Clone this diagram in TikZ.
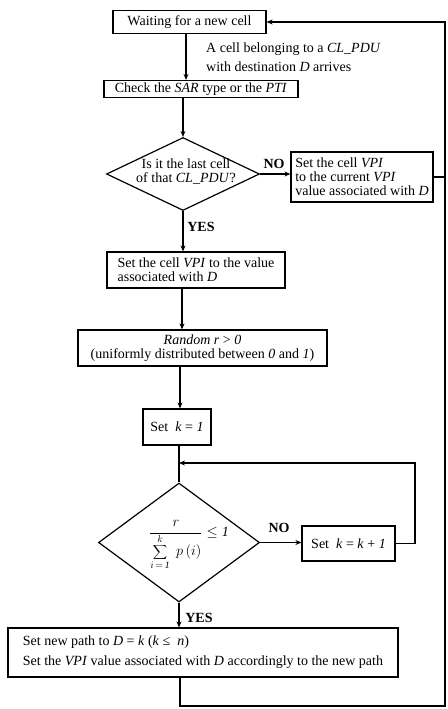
\documentclass[tikz,border=0pt]{standalone}
\usepackage{fontspec}
\setmainfont{Liberation Serif}
\usetikzlibrary{shapes.geometric,arrows.meta}
\newcommand\fs{\fontsize{14}{14}\selectfont}
\tikzset{
  box/.style={draw, line width=1.2pt, inner sep=0pt, align=center, font=\fs},
  dia/.style={draw, diamond, line width=1.2pt, inner sep=0pt},
  dtext/.style={align=center, font=\fs, inner sep=0pt},
  arr/.style={-{Stealth[length=6pt,width=5pt]}, line width=1.2pt},
  ln/.style={line width=1.2pt},
  lab/.style={font=\fs\bfseries, inner sep=0pt},
  note/.style={font=\fs, align=left, inner sep=0pt}
}
\begin{document}
\begin{tikzpicture}[x=1pt,y=-1pt]
\useasboundingbox (0,0) rectangle (447,709);

\node[box, minimum width=153pt, minimum height=23pt] (b1) at (189.5,22) {Waiting for a new cell};
\node[note, anchor=west] (arrive) at (206,57) {A cell belonging to a \textit{CL\_PDU}\\[5pt] with destination \textit{D} arrives};
\node[box, minimum width=194pt, minimum height=17pt] (b2) at (201,89) {Check the \textit{SAR} type or the \textit{PTI}};

\node[dia, minimum width=153pt, minimum height=73pt] (d1) at (183,174) {};
\node[dtext] (d1t) at (186,172) {Is it the last cell\\of that \textit{CL\_PDU}?};
\node[box, align=left, minimum width=142pt, minimum height=50pt] (no1) at (362,177) {Set the cell \textit{VPI}\\to the current \textit{VPI}\\value associated with \textit{D}};
\node[lab] (nolab1) at (274,164) {NO};
\node[lab] (yeslab1) at (201,227) {YES};

\node[box, align=left, minimum width=178pt, minimum height=36pt] (b3) at (196,270) {Set the cell \textit{VPI} to the value\\associated with \textit{D}};
\node[box, minimum width=249pt, minimum height=36pt] (b4) at (202.5,348) {\textit{Random r} {>} \textit{0}\\(uniformly distributed between \textit{0} and \textit{1})};
\node[box, minimum width=68pt, minimum height=36pt] (b5) at (177,427) {Set \ \textit{k} = \textit{1}};

\node[dia, minimum width=161pt, minimum height=119pt] (d2) at (179,542.5) {};
\node[dtext] (d2t) at (189,545) {$\displaystyle \frac{r}{\displaystyle\sum\limits_{i\,=\,\mathit{1}}^{k}\; p\,(i)} \leq \mathit{1}$};
\node[box, minimum width=93pt, minimum height=35pt] (b6) at (348.5,543.5) {Set \ \textit{k} = \textit{k} + \textit{1}};
\node[lab] (nolab2) at (279,528) {NO};
\node[lab] (yeslab2) at (199,618) {YES};

\node[box, align=left, minimum width=390pt, minimum height=49pt] (b7) at (203,652.5) {Set new path to \textit{D} = \textit{k} (\textit{k} ≤ \ \textit{n})\\[6pt]Set the \textit{VPI} value associated with \textit{D} accordingly to the new path};

\coordinate (xa) at (186,0);
\coordinate (xc) at (182,0);
\coordinate (xd) at (180,0);
\coordinate (jn) at (179,463);
\coordinate (lr) at (415,463);
\coordinate (bl) at (180,706);
\coordinate (br) at (445,706);
\coordinate (tr) at (445,22);

\draw[arr] (b1.south -| xa) -- (b2.north -| xa);
\draw[arr] (b2.south -| d1.north) -- (d1.north);
\draw[arr] (d1.east) -- (no1.west |- d1.east);
\draw[ln] (no1.east) -- (no1.east -| tr);
\draw[arr] (d1.south) -- (b3.north -| d1.south);
\draw[arr] (b3.south -| xc) -- (b4.north -| xc);
\draw[arr] (b4.south -| xd) -- (b5.north -| xd);
\draw[ln] (b5.south -| d2.north) -- (d2.north);
\draw[arr] (b6.east) -| (lr) -- (jn);
\draw[arr] (d2.east) -- (b6.west |- d2.east);
\draw[arr] (d2.south) -- (b7.north -| d2.south);
\draw[arr] (b7.south -| bl) -- (bl) -- (br) -- (tr) -- (b1.east);
\end{tikzpicture}
\end{document}
